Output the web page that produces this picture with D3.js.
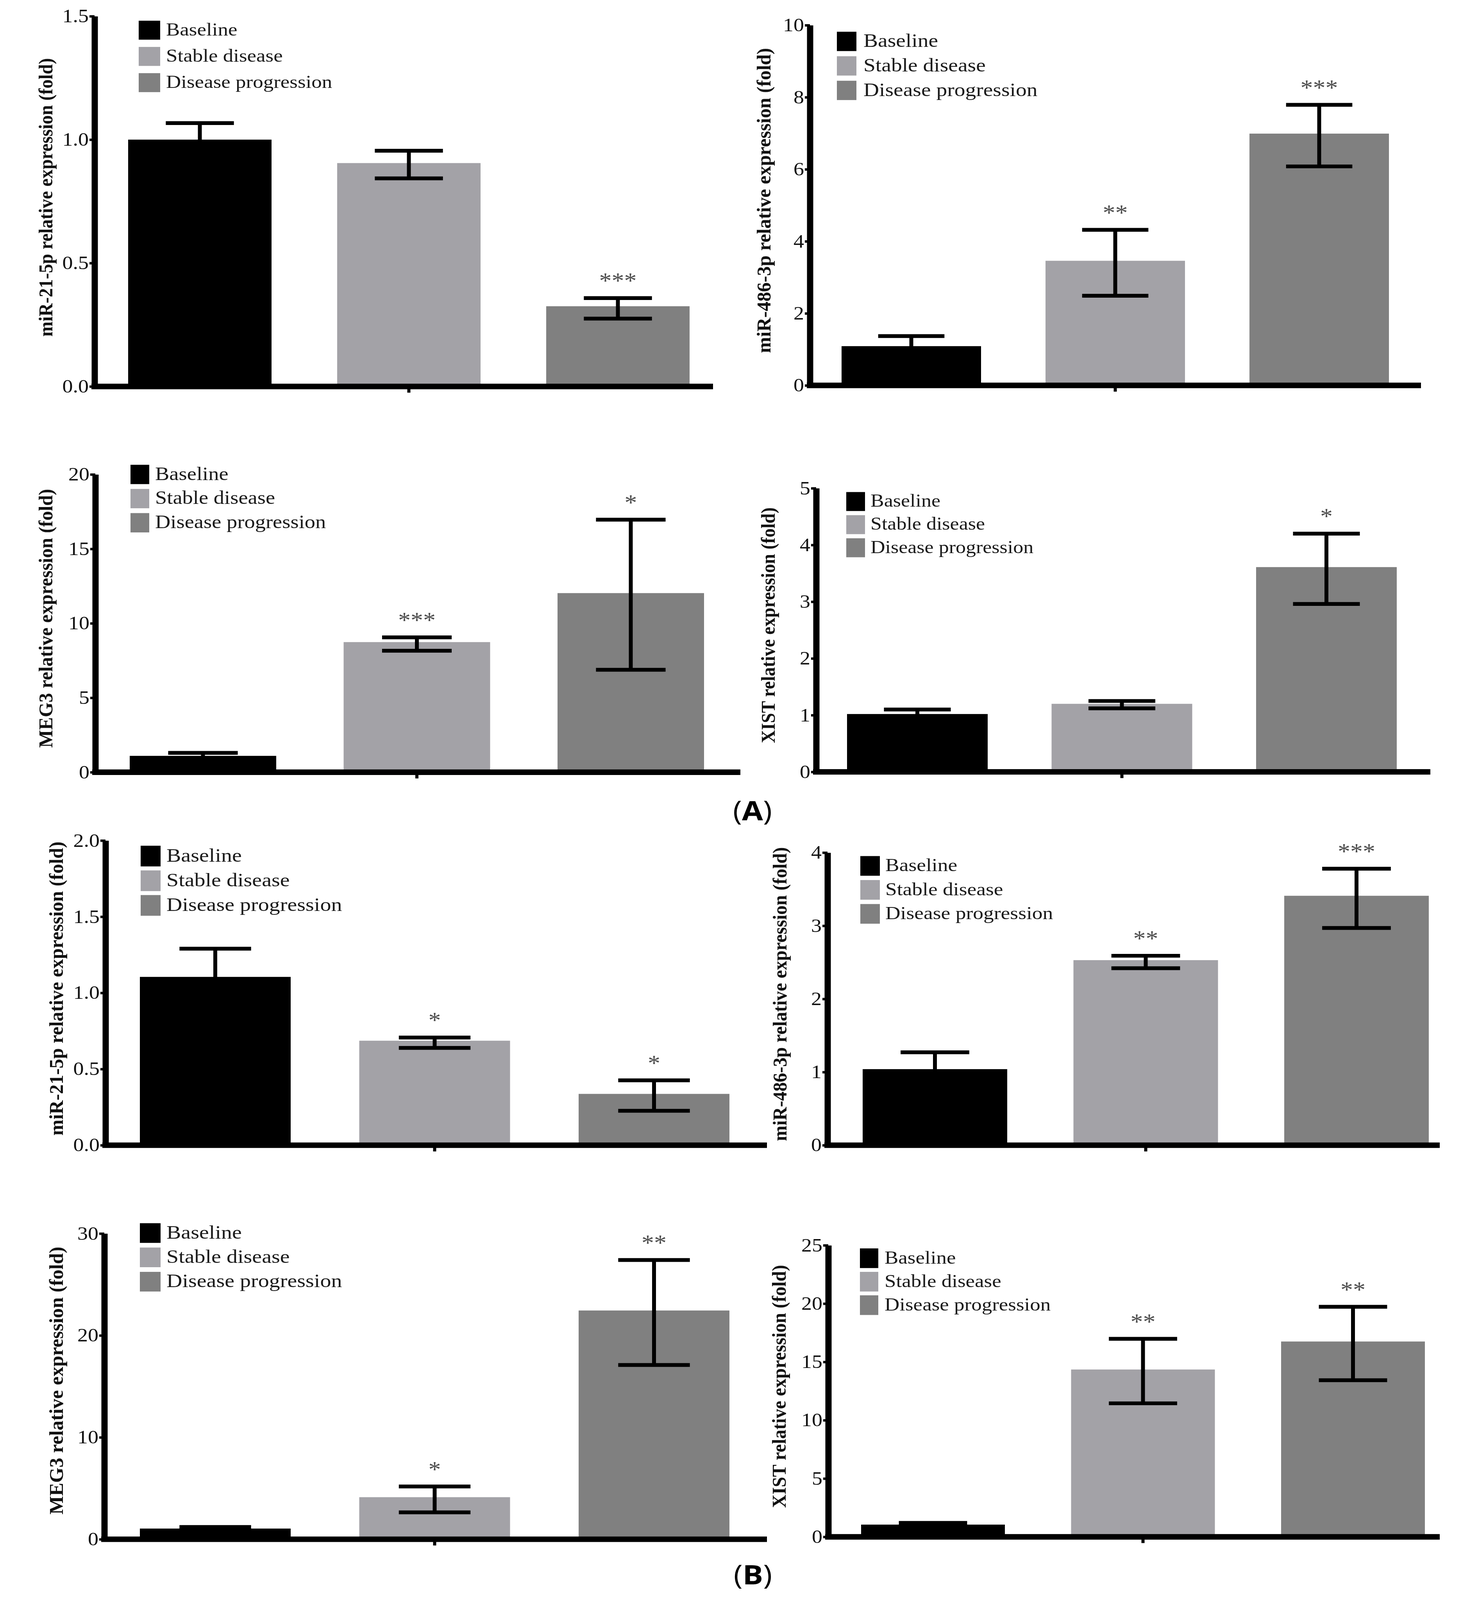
<!DOCTYPE html>
<html>
<head>
<meta charset="utf-8">
<script src="https://cdn.jsdelivr.net/npm/d3@7"></script>
<style>
body { margin: 0; background: #fff; overflow: hidden; }
</style>
</head>
<body>
<script>
// groups and bar colours
var groups = ["Baseline", "Stable disease", "Disease progression"];
var colors = ["#000000", "#a3a2a7", "#808080"];

// one entry per panel: A (4 panels) then B (4 panels)
var titles = [
    "miR-21-5p relative expression (fold)",
    "miR-486-3p relative expression (fold)",
    "MEG3 relative expression (fold)",
    "XIST relative expression (fold)",
    "miR-21-5p relative expression (fold)",
    "miR-486-3p relative expression (fold)",
    "MEG3 relative expression (fold)",
    "XIST relative expression (fold)"
];
var means = [
    [1.00, 0.905, 0.325],
    [1.09, 3.46, 6.99],
    [1.10, 8.74, 12.03],
    [1.02, 1.20, 3.61],
    [1.105, 0.686, 0.337],
    [1.04, 2.53, 3.41],
    [1.05, 4.13, 22.45],
    [1.05, 14.35, 16.75]
];
var errHi = [
    [1.067, 0.955, 0.358],
    [1.37, 4.32, 7.79],
    [1.30, 9.06, 16.96],
    [1.10, 1.25, 4.20],
    [1.29, 0.707, 0.426],
    [1.27, 2.59, 3.78],
    [1.20, 5.18, 27.4],
    [1.20, 16.98, 19.73]
];
var errLo = [
    [0.933, 0.843, 0.275],
    [0.81, 2.49, 6.08],
    [0.90, 8.16, 6.88],
    [0.94, 1.12, 2.96],
    [0.92, 0.639, 0.226],
    [0.81, 2.42, 2.97],
    [0.90, 2.64, 17.1],
    [0.90, 11.45, 13.43]
];
var stars = [
    ["", "", "***"],
    ["", "**", "***"],
    ["", "***", "*"],
    ["", "", "*"],
    ["", "*", "*"],
    ["", "**", "***"],
    ["", "*", "**"],
    ["", "**", "**"]
];
var yTicks = [
    [0, 0.5, 1.0, 1.5],
    [0, 2, 4, 6, 8, 10],
    [0, 5, 10, 15, 20],
    [0, 1, 2, 3, 4, 5],
    [0, 0.5, 1.0, 1.5, 2.0],
    [0, 1, 2, 3, 4],
    [0, 10, 20, 30],
    [0, 5, 10, 15, 20, 25]
];
var tickFormats = [".1f", "d", "d", "d", ".1f", "d", "d", "d"];
var panelLabels = ["A", "B"];

// where each panel sits on the 3742x4637 figure (pixels)
var layout = [
    {axisX: 242, y0: 1120, yTop: 47, xEnd: 1825, bandL: 328, bandR: 1765, bw: 367, titleX: 122, titleY: 572, titleLen: 807, legX: 355, legY: 60, legW: 55, legH: 55, legGap: 76, legFont: 53, textX: 425},
    {axisX: 2073, y0: 1117, yTop: 73, xEnd: 3637, bandL: 2154, bandR: 3555, bw: 357, titleX: 1960, titleY: 581, titleLen: 884, legX: 2142, legY: 92, legW: 50, legH: 56, legGap: 71, legFont: 55.5, textX: 2210},
    {axisX: 244, y0: 2238, yTop: 1375, xEnd: 1895, bandL: 332, bandR: 1802, bw: 375, titleX: 122, titleY: 1792, titleLen: 750, legX: 334, legY: 1347, legW: 48, legH: 56, legGap: 70, legFont: 54.5, textX: 397},
    {axisX: 2089, y0: 2237, yTop: 1415, xEnd: 3661, bandL: 2168, bandR: 3575, bw: 360, titleX: 1971, titleY: 1812, titleLen: 683, legX: 2166, legY: 1426, legW: 48, legH: 55, legGap: 67, legFont: 52, textX: 2228},
    {axisX: 270, y0: 3319, yTop: 2436, xEnd: 1963, bandL: 358, bandR: 1867, bw: 386, titleX: 149, titleY: 2865, titleLen: 852, legX: 360, legY: 2451, legW: 51, legH: 60, legGap: 71.5, legFont: 56, textX: 426},
    {axisX: 2118, y0: 3319, yTop: 2471, xEnd: 3685, bandL: 2208, bandR: 3657, bw: 370, titleX: 2001, titleY: 2881, titleLen: 852, legX: 2202, legY: 2481, legW: 50, legH: 57, legGap: 69.5, legFont: 53.5, textX: 2266},
    {axisX: 267, y0: 4461, yTop: 3575, xEnd: 1963, bandL: 358, bandR: 1867, bw: 386, titleX: 149, titleY: 4001, titleLen: 776, legX: 358, legY: 3545, legW: 53, legH: 57, legGap: 70.5, legFont: 56, textX: 426},
    {axisX: 2120, y0: 4454, yTop: 3609, xEnd: 3685, bandL: 2204, bandR: 3647, bw: 368, titleX: 1999, titleY: 4018, titleLen: 704, legX: 2201, legY: 3618, legW: 47, legH: 57, legGap: 68, legFont: 53, textX: 2264}
];
var labelPos = [{x: 1926, y: 2377}, {x: 1927, y: 4592}];

var serif = "'Liberation Serif', 'DejaVu Serif', serif";

// the browser window is shorter than the figure, so fit the figure into it
var vw = window.innerWidth || 3742;
var vh = window.innerHeight || 4637;

var svg = d3.select("body").append("svg")
    .attr("width", vw)
    .attr("height", vh)
    .attr("viewBox", "0 0 3742 4637")
    .attr("preserveAspectRatio", "none")
    .style("display", "block")
    .style("background", "#fff");

layout.forEach(function(L, i) {
    var g = svg.append("g");
    var top = yTicks[i][yTicks[i].length - 1];
    var y = d3.scaleLinear().domain([0, top]).range([L.y0, L.yTop]);

    var span = L.bandR - L.bandL;
    var pad = (span - 3 * L.bw) / (span - L.bw);
    var x = d3.scaleBand().domain(groups).range([L.bandL, L.bandR])
        .paddingInner(pad).paddingOuter(0);

    var rows = groups.map(function(k, j) {
        return {k: k, m: means[i][j], hi: errHi[i][j], lo: errLo[i][j], s: stars[i][j], c: colors[j]};
    });

    // bars
    g.selectAll("rect.bar").data(rows).join("rect")
        .attr("class", "bar")
        .attr("x", function(d) { return x(d.k); })
        .attr("width", x.bandwidth())
        .attr("y", function(d) { return y(d.m); })
        .attr("height", function(d) { return y(0) - y(d.m); })
        .attr("fill", function(d) { return d.c; });

    // error bars + stars
    var capW = x.bandwidth() * 0.475;
    var eb = g.selectAll("g.err").data(rows).join("g")
        .attr("class", "err")
        .attr("transform", function(d) { return "translate(" + (x(d.k) + x.bandwidth() / 2) + ",0)"; });
    eb.append("line")
        .attr("y1", function(d) { return y(d.lo); })
        .attr("y2", function(d) { return y(d.hi); })
        .attr("stroke", "#000").attr("stroke-width", 10);
    eb.append("line")
        .attr("x1", -capW / 2).attr("x2", capW / 2)
        .attr("y1", function(d) { return y(d.hi); })
        .attr("y2", function(d) { return y(d.hi); })
        .attr("stroke", "#000").attr("stroke-width", 11);
    eb.append("line")
        .attr("x1", -capW / 2).attr("x2", capW / 2)
        .attr("y1", function(d) { return y(d.lo); })
        .attr("y2", function(d) { return y(d.lo); })
        .attr("stroke", "#000").attr("stroke-width", 11);
    eb.append("text")
        .text(function(d) { return d.s; })
        .attr("y", function(d) { return y(d.hi) - 28; })
        .attr("text-anchor", "middle")
        .attr("font-family", serif)
        .attr("font-size", 64)
        .attr("fill", "#4d4d4d");

    // y axis
    var ax = g.append("g")
        .attr("transform", "translate(" + L.axisX + ",0)")
        .call(d3.axisLeft(y).tickValues(yTicks[i]).tickFormat(d3.format(tickFormats[i]))
            .tickSize(13).tickSizeOuter(0).tickPadding(2));
    ax.attr("font-family", serif).attr("font-size", 54);
    ax.select(".domain").attr("stroke", "#000").attr("stroke-width", 16);
    ax.selectAll(".tick line").attr("stroke", "#000").attr("stroke-width", 7);
    ax.selectAll(".tick text").attr("fill", "#111");

    // x axis
    g.append("line")
        .attr("x1", L.axisX - 8).attr("x2", L.xEnd)
        .attr("y1", y(0)).attr("y2", y(0))
        .attr("stroke", "#000").attr("stroke-width", 16);
    var mid = x(groups[1]) + x.bandwidth() / 2;
    g.append("line")
        .attr("x1", mid).attr("x2", mid)
        .attr("y1", y(0)).attr("y2", y(0) + 18)
        .attr("stroke", "#000").attr("stroke-width", 8);

    // y title
    g.append("text")
        .attr("transform", "translate(" + (L.titleX + 12) + "," + L.titleY + ") rotate(-90)")
        .attr("text-anchor", "middle")
        .attr("font-family", serif)
        .attr("font-weight", "bold")
        .attr("font-size", 50)
        .attr("textLength", L.titleLen)
        .attr("lengthAdjust", "spacingAndGlyphs")
        .attr("fill", "#111")
        .text(titles[i]);

    // legend
    var leg = g.selectAll("g.leg").data(groups).join("g")
        .attr("class", "leg")
        .attr("transform", function(d, j) { return "translate(0," + (L.legY + j * L.legGap) + ")"; });
    leg.append("rect")
        .attr("x", L.legX).attr("width", L.legW).attr("height", L.legH)
        .attr("fill", function(d, j) { return colors[j]; });
    leg.append("text")
        .attr("x", L.textX)
        .attr("y", L.legH / 2 + 0.29 * L.legFont)
        .attr("font-family", serif)
        .attr("font-size", L.legFont)
        .attr("fill", "#1a1a1a")
        .text(function(d) { return d; });
});

// (A) and (B)
panelLabels.forEach(function(lab, i) {
    var t = svg.append("text")
        .attr("x", labelPos[i].x).attr("y", labelPos[i].y)
        .attr("text-anchor", "middle")
        .attr("font-family", "'Open Sans', 'Noto Sans', sans-serif")
        .attr("font-size", 78)
        .attr("fill", "#000");
    t.append("tspan").text("(");
    t.append("tspan").attr("font-weight", "bold").text(lab);
    t.append("tspan").text(")");
});
</script>
</body>
</html>
